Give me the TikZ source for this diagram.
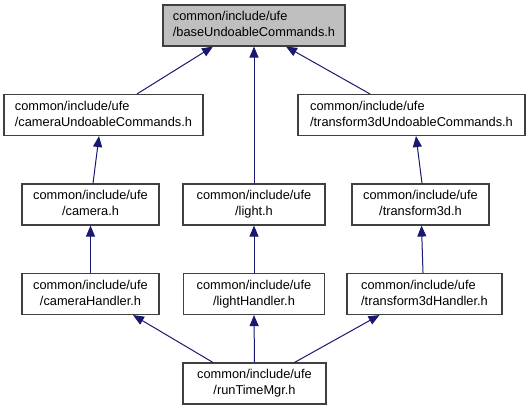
\documentclass[tikz,border=0pt]{standalone}
\usepackage{fontspec}
\setmainfont{Liberation Sans}
\usetikzlibrary{arrows.meta}
\definecolor{edgeblue}{HTML}{191970}
\definecolor{topfill}{HTML}{BFBFBF}
\definecolor{boxline}{HTML}{404040}
\newcommand\ctwo[2]{\begin{tabular}{@{}c@{}}#1\\#2\end{tabular}}
\newcommand\ltwo[2]{\begin{tabular}{@{}l@{}}#1\\#2\end{tabular}}
\tikzset{
  filebox/.style={draw=boxline, line width=1.1bp, fill=white, inner sep=0pt,
    minimum height=41bp, font=\fontsize{12.8bp}{16bp}\selectfont},
  topbox/.style={filebox, fill=topfill},
  dep/.style={draw=edgeblue, line width=1bp, {Triangle[length=11bp,width=9bp]}-}
}
\begin{document}
\begin{tikzpicture}[x=1bp,y=-1bp]
\useasboundingbox (0,0) rectangle (529,409);
\node[topbox, minimum width=182bp] (top) at (254,25.5) {\ltwo{common/include/ufe}{/baseUndoableCommands.h}};
\node[filebox, minimum width=199bp] (cu) at (103.5,115) {\ltwo{common/include/ufe}{/cameraUndoableCommands.h}};
\node[filebox, minimum width=227bp] (tu) at (411.5,115) {\ltwo{common/include/ufe}{/transform3dUndoableCommands.h}};
\node[filebox, minimum width=137bp] (cam) at (90.5,204.5) {\ctwo{common/include/ufe}{/camera.h}};
\node[filebox, minimum width=142bp] (light) at (254,204.5) {\ctwo{common/include/ufe}{/light.h}};
\node[filebox, minimum width=137bp] (tr) at (420.5,204.5) {\ctwo{common/include/ufe}{/transform3d.h}};
\node[filebox, minimum width=137bp] (camh) at (90.5,294) {\ctwo{common/include/ufe}{/cameraHandler.h}};
\node[filebox, minimum width=141bp] (lighth) at (254,294) {\ctwo{common/include/ufe}{/lightHandler.h}};
\node[filebox, minimum width=155bp] (trh) at (424.5,294) {\ltwo{common/include/ufe}{/transform3dHandler.h}};
\node[filebox, minimum width=143bp] (rt) at (254.5,383.5) {\ctwo{common/include/ufe}{/runTimeMgr.h}};

\draw[dep] ([xshift=-41bp]top.south) -- ([xshift=33.5bp]cu.north);
\draw[dep] (top.south) -- (light.north);
\draw[dep] ([xshift=32bp]top.south) -- ([xshift=-41.5bp]tu.north);
\draw[dep] ([xshift=-4.5bp]cu.south) -- ([xshift=2.5bp]cam.north);
\draw[dep] ([xshift=4.5bp]tu.south) -- ([xshift=1.5bp]tr.north);
\draw[dep] (cam.south) -- (camh.north);
\draw[dep] (light.south) -- (lighth.north);
\draw[dep] ([xshift=1bp]tr.south) -- ([xshift=-1.5bp]trh.north);
\draw[dep] ([xshift=42.5bp]camh.south) -- ([xshift=-41.5bp]rt.north);
\draw[dep] (lighth.south) -- (rt.north);
\draw[dep] ([xshift=-45bp]trh.south) -- ([xshift=40bp]rt.north);
\end{tikzpicture}
\end{document}
